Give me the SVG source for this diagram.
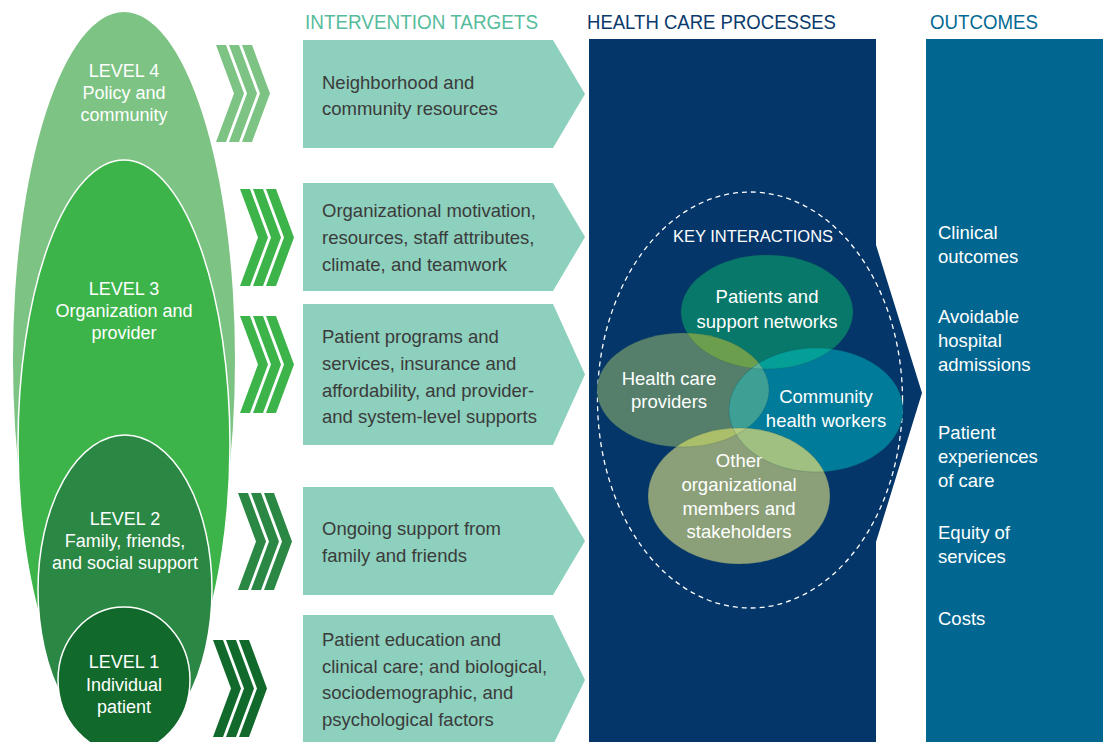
<svg xmlns="http://www.w3.org/2000/svg" width="1103" height="742" viewBox="0 0 1103 742">
<style>
text{font-family:"Liberation Sans",Arial,sans-serif;}
.hdr{font-size:20px;}
.lv{fill:#fff;font-size:18px;text-anchor:middle;}
.bx{fill:#3b3b3b;font-size:18.5px;}
.box{fill:#8dd0bd;}
.ki{fill:#fff;font-size:18.5px;text-anchor:middle;}
.oc{fill:#fff;font-size:18.5px;}
.sep{stroke:#fff;stroke-width:1.5;}
</style>
<defs>
<path id="chev" d="M0,0h10l18,48.5l-18,48.5h-10l18,-48.5z M13,0h10l18,48.5l-18,48.5h-10l18,-48.5z M26,0h10l18,48.5l-18,48.5h-10l18,-48.5z"/>
<clipPath id="cP"><ellipse cx="767" cy="312" rx="86" ry="57"/></clipPath>
<clipPath id="cH"><ellipse cx="683" cy="390" rx="86" ry="57"/></clipPath>
<clipPath id="cC"><ellipse cx="816" cy="410" rx="87" ry="62"/></clipPath>
</defs>
<rect width="1103" height="742" fill="#fff"/>

<!-- headers -->
<text class="hdr" x="305" y="29" fill="#56bc9c" textLength="233" lengthAdjust="spacingAndGlyphs">INTERVENTION TARGETS</text>
<text class="hdr" x="587" y="29" fill="#0a3a6c" textLength="249" lengthAdjust="spacingAndGlyphs">HEALTH CARE PROCESSES</text>
<text class="hdr" x="930" y="29" fill="#046a94" textLength="108" lengthAdjust="spacingAndGlyphs">OUTCOMES</text>

<!-- levels -->
<g id="level4"><ellipse cx="124" cy="360" rx="111" ry="348" fill="#7dc383"/>
<text class="lv" x="124" y="77">LEVEL 4</text><text class="lv" x="124" y="99">Policy and</text><text class="lv" x="124" y="121">community</text></g>
<g id="level3"><ellipse class="sep" cx="124" cy="445" rx="106" ry="285" fill="#3cb44a"/>
<text class="lv" x="124" y="295">LEVEL 3</text><text class="lv" x="124" y="317">Organization and</text><text class="lv" x="124" y="339">provider</text></g>
<g id="level2"><ellipse class="sep" cx="125" cy="590" rx="87" ry="155" fill="#2a8744"/>
<text class="lv" x="125" y="525">LEVEL 2</text><text class="lv" x="125" y="547">Family, friends,</text><text class="lv" x="125" y="569">and social support</text></g>
<g id="level1"><ellipse class="sep" cx="124" cy="680" rx="66" ry="73" fill="#116a2b"/>
<text class="lv" x="124" y="668">LEVEL 1</text><text class="lv" x="124" y="691">Individual</text><text class="lv" x="124" y="713">patient</text></g>

<!-- connectors: chevrons -->
<g id="connectors">
<use href="#chev" x="216" y="45" fill="#7dc383"/>
<use href="#chev" x="240" y="189" fill="#3cb44a"/>
<use href="#chev" x="240" y="316" fill="#3cb44a"/>
<use href="#chev" x="238" y="493" fill="#2a8744"/>
<use href="#chev" x="213" y="640" fill="#116a2b"/>
</g>

<!-- intervention targets -->
<g id="target1"><polygon class="box" points="303,40 553,40 585,94 553,148 303,148"/>
<text class="bx" x="322" y="89">Neighborhood and</text><text class="bx" x="322" y="115">community resources</text></g>
<g id="target2"><polygon class="box" points="303,183 553,183 585,237 553,291 303,291"/>
<text class="bx" x="322" y="217">Organizational motivation,</text><text class="bx" x="322" y="244">resources, staff attributes,</text><text class="bx" x="322" y="271">climate, and teamwork</text></g>
<g id="target3"><polygon class="box" points="303,304 553,304 585,374.5 553,445 303,445"/>
<text class="bx" x="322" y="343">Patient programs and</text><text class="bx" x="322" y="370">services, insurance and</text><text class="bx" x="322" y="397">affordability, and provider-</text><text class="bx" x="322" y="423">and system-level supports</text></g>
<g id="target4"><polygon class="box" points="303,487 553,487 585,541 553,595 303,595"/>
<text class="bx" x="322" y="535">Ongoing support from</text><text class="bx" x="322" y="562">family and friends</text></g>
<g id="target5"><polygon class="box" points="303,615 553,615 585,680 553,745 303,745"/>
<text class="bx" x="322" y="646">Patient education and</text><text class="bx" x="322" y="673">clinical care; and biological,</text><text class="bx" x="322" y="699">sociodemographic, and</text><text class="bx" x="322" y="726">psychological factors</text></g>

<!-- health care processes -->
<g id="processes">
<polygon points="589,39 876,39 876,245 922,393 876,542 876,742 589,742" fill="#04366a"/>
<ellipse cx="750" cy="400" rx="152.5" ry="208" fill="none" stroke="#fff" stroke-width="1.3" stroke-dasharray="5 4"/>
<text x="753" y="242" fill="#fff" font-size="16.5" text-anchor="middle">KEY INTERACTIONS</text>
</g>

<g id="interactions">
<ellipse cx="767" cy="312" rx="86" ry="57" fill="#07786a"/>
<ellipse cx="683" cy="390" rx="86" ry="57" fill="#557f6b"/>
<ellipse cx="816" cy="410" rx="87" ry="62" fill="#017b9a"/>
<ellipse cx="739" cy="496" rx="91" ry="68" fill="#8b9f79"/>
<g clip-path="url(#cP)"><ellipse cx="683" cy="390" rx="86" ry="57" fill="#6b9f4e"/></g>
<g clip-path="url(#cP)"><ellipse cx="816" cy="410" rx="87" ry="62" fill="#049f96"/></g>
<g clip-path="url(#cH)"><ellipse cx="816" cy="410" rx="87" ry="62" fill="#3e9f95"/></g>
<g clip-path="url(#cH)"><ellipse cx="739" cy="496" rx="91" ry="68" fill="#abbe6a"/></g>
<g clip-path="url(#cC)"><ellipse cx="739" cy="496" rx="91" ry="68" fill="#9fc081"/></g>
<g clip-path="url(#cH)"><g clip-path="url(#cC)"><ellipse cx="739" cy="496" rx="91" ry="68" fill="#b6cb82"/></g></g>
<g clip-path="url(#cP)"><g clip-path="url(#cH)"><ellipse cx="816" cy="410" rx="87" ry="62" fill="#5db39a"/></g></g>
<g fill="none" stroke="#1d4a50" stroke-opacity="0.25" stroke-width="0.8">
<ellipse cx="767" cy="312" rx="86" ry="57"/><ellipse cx="683" cy="390" rx="86" ry="57"/><ellipse cx="816" cy="410" rx="87" ry="62"/><ellipse cx="739" cy="496" rx="91" ry="68"/>
</g>
<g id="patients"><text class="ki" x="767" y="303">Patients and</text><text class="ki" x="767" y="328">support networks</text></g>
<g id="providers"><text class="ki" x="669" y="385">Health care</text><text class="ki" x="669" y="408">providers</text></g>
<g id="chw"><text class="ki" x="826" y="403">Community</text><text class="ki" x="826" y="427">health workers</text></g>
<g id="others"><text class="ki" x="739" y="467">Other</text><text class="ki" x="739" y="491">organizational</text><text class="ki" x="739" y="515">members and</text><text class="ki" x="739" y="538">stakeholders</text></g>
</g>

<!-- outcomes -->
<g id="outcomes">
<rect x="926" y="39" width="177" height="703" fill="#016791"/>
<text class="oc" x="938" y="239">Clinical</text><text class="oc" x="938" y="263">outcomes</text>
<text class="oc" x="938" y="323">Avoidable</text><text class="oc" x="938" y="347">hospital</text><text class="oc" x="938" y="371">admissions</text>
<text class="oc" x="938" y="439">Patient</text><text class="oc" x="938" y="463">experiences</text><text class="oc" x="938" y="487">of care</text>
<text class="oc" x="938" y="539">Equity of</text><text class="oc" x="938" y="563">services</text>
<text class="oc" x="938" y="625">Costs</text>
</g>
</svg>
